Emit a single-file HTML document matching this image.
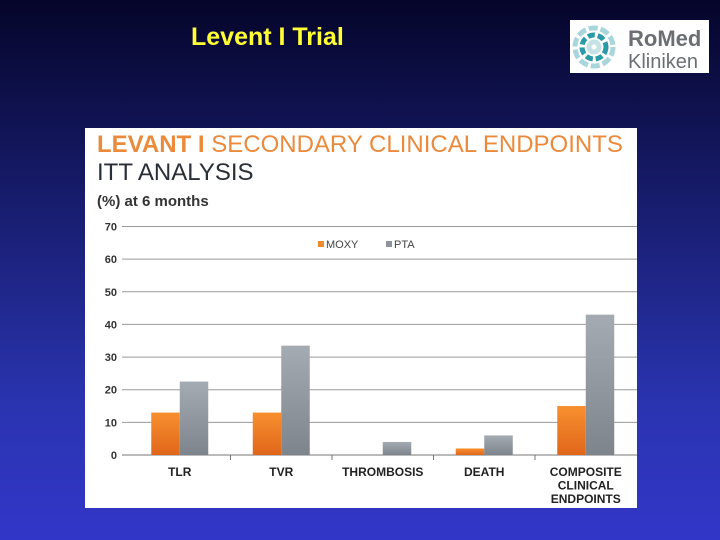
<!DOCTYPE html>
<html><head><meta charset="utf-8"><style>
body{margin:0;width:720px;height:540px;overflow:hidden;background:linear-gradient(#05052a 0%,#141860 30%,#2a34b0 75%,#3236c8 100%);font-family:"Liberation Sans",sans-serif;position:relative}
#title{position:absolute;left:191px;top:23px;font-size:25px;font-weight:bold;color:#ffff33}
#logo{position:absolute;left:570px;top:20px;width:139px;height:53px;background:#fff}
#panel{position:absolute;left:85px;top:128px;width:552px;height:380px;background:#fff}
</style></head><body>
<div id="title">Levent I Trial</div>
<div id="logo">
<svg width="139" height="53">
<g fill="none" stroke-width="5">
<circle cx="24" cy="27" r="19" stroke="#a9d6dc" stroke-dasharray="9 3"/>
<circle cx="24" cy="27" r="12" stroke="#2a9aa6" stroke-dasharray="7 3"/>
<circle cx="24" cy="27" r="5" stroke="#c5e3e6"/>
</g>
<text x="58" y="26" font-size="22" font-weight="bold" fill="#6b6f73" font-family="Liberation Sans">RoMed</text>
<text x="58" y="48" font-size="20" fill="#6b6f73" font-family="Liberation Sans">Kliniken</text>
</svg></div>
<div id="panel">
<svg id="chart" width="552" height="380">
<defs>
<linearGradient id="go" x1="0" y1="0" x2="0" y2="1"><stop offset="0" stop-color="#f7902f"/><stop offset="1" stop-color="#e0661a"/></linearGradient>
<linearGradient id="gg" x1="0" y1="0" x2="0" y2="1"><stop offset="0" stop-color="#a5abb3"/><stop offset="1" stop-color="#7d848c"/></linearGradient>
</defs>
<text x="12" y="24" font-size="24" fill="#ec8a3c"><tspan font-weight="bold">LEVANT I</tspan> SECONDARY CLINICAL ENDPOINTS</text>
<text x="12" y="52" font-size="24" fill="#2a2e38">ITT ANALYSIS</text>
<text x="12" y="78" font-size="15" font-weight="bold" fill="#333">(%) at 6 months</text>
<g id="grid"></g><g id="bars"></g><g id="labels"></g>
<rect x="233" y="113" width="6" height="6" fill="#f08a30"/>
<text x="241" y="120" font-size="11" fill="#444">MOXY</text>
<rect x="301" y="113" width="6" height="6" fill="#8c939b"/>
<text x="309" y="120" font-size="11" fill="#444">PTA</text>
</svg></div>
<script>
const categories=[["TLR"],["TVR"],["THROMBOSIS"],["DEATH"],["COMPOSITE","CLINICAL","ENDPOINTS"]];
const moxy=[13,13,0,2,15];
const pta=[22.5,33.5,4,6,43];
const ticks=[0,10,20,30,40,50,60,70];
const NS="http://www.w3.org/2000/svg";
const x0=44,step=101.5,bw=28.5,yZero=327,yScale=(327-98.5)/70;
const y=v=>yZero-v*yScale;
const cx=i=>x0+step*(i+0.5);
function mk(t,a,p){const e=document.createElementNS(NS,t);for(const k in a)e.setAttribute(k,a[k]);p.appendChild(e);return e;}
const grid=document.getElementById('grid'),bars=document.getElementById('bars'),labels=document.getElementById('labels');
ticks.forEach(t=>{
 const l=mk('line',{x1:x0-7,x2:552,y1:y(t),y2:y(t),stroke:t?'#9a9a9a':'#777','stroke-width':1},grid);
 
 
 const tx=mk('text',{x:32,y:y(t)+4,'font-size':11,'font-weight':'bold',fill:'#333','text-anchor':'end'},grid);
 tx.textContent=t;
 
 
});
for(let i=1;i<categories.length;i++){
 const tk=mk('line',{x1:x0+step*i,x2:x0+step*i,y1:yZero,y2:yZero+5,stroke:'#777'},grid);
 
 
}
categories.forEach((c,i)=>{
 const m=mk('rect',{x:cx(i)-bw,y:y(moxy[i]),width:bw,height:moxy[i]*yScale,fill:'url(#go)'},bars);
 
 
 const p=mk('rect',{x:cx(i),y:y(pta[i]),width:bw,height:pta[i]*yScale,fill:'url(#gg)'},bars);
 
 
 c.forEach((s,j)=>{
  const t=mk('text',{x:cx(i),y:348+j*13.5,'font-size':12,'font-weight':'bold',fill:'#222','text-anchor':'middle'},labels);
  t.textContent=s;
  
  
 });
});
</script>
</body></html>
